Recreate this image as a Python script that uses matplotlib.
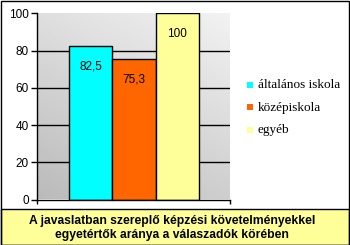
import numpy as np
import matplotlib.pyplot as plt
from matplotlib.patches import Rectangle

categories = ["általános iskola", "középiskola", "egyéb"]
values = [82.5, 75.3, 100]
labels = ["82,5", "75,3", "100"]
colors = ["#00FFFF", "#FF6600", "#FFFF99"]
yticks = [0, 20, 40, 60, 80, 100]
title = "A javaslatban szereplő képzési követelményekkel\negyetértők aránya a válaszadók körében"

W, H = 350, 245
fig = plt.figure(figsize=(W / 100, H / 100), dpi=100)
fig.patch.set_facecolor("white")

# plot area in pixels: x 37..230, y 13..199.5
ax = fig.add_axes([37 / W, (H - 199.5) / H, 193 / W, 186.2 / H])
ax.set_xlim(0, 1)
ax.set_ylim(0, 100)

# diagonal grey gradient background, darker at bottom left
gx, gy = np.meshgrid(np.linspace(0, 1, 100), np.linspace(0, 1, 100))
grad = 0.73 + 0.22 * (gx * 0.35 + gy * 0.65)
ax.imshow(grad, extent=[0, 1, 0, 100], origin="lower", aspect="auto",
          cmap="gray", vmin=0, vmax=1, zorder=0)

for v in yticks[1:-1]:
    ax.axhline(v, color="black", lw=1, zorder=1)

w = 0.224
pos = 0.503 + (np.arange(len(values)) - 1) * w
ax.bar(pos, values, width=w, color=colors, edgecolor="black", linewidth=1, zorder=2)
for p, v, t in zip(pos, values, labels):
    ax.text(p, v - 11, t, ha="center", va="center", fontsize=8.5,
            family="Liberation Sans", zorder=3)

ax.set_yticks(yticks)
ax.set_yticklabels([str(t) for t in yticks], family="Liberation Sans", fontsize=8.5)
ax.set_xticks([0, 1])
ax.set_xticklabels([])
ax.tick_params(axis="y", length=4, width=1, pad=2)
ax.tick_params(axis="x", length=3, width=1)
for s in ["top", "right"]:
    ax.spines[s].set_visible(False)
for s in ["left", "bottom"]:
    ax.spines[s].set_linewidth(1)

# legend
for i, (c, name) in enumerate(zip(colors, categories)):
    y = H - (85 + i * 22.5)
    fig.patches.append(Rectangle((247 / W, (y - 3) / H), 6 / W, 6 / H,
                                 transform=fig.transFigure, facecolor=c,
                                 edgecolor="none"))
    fig.text(258 / W, y / H, name, ha="left", va="center", fontsize=9.5,
             family="Liberation Serif")

# title box
fig.patches.append(Rectangle((0.5 / W, 0.5 / H), (W - 2) / W, 36 / H,
                             transform=fig.transFigure, facecolor="#FFFF99",
                             edgecolor="black", linewidth=1))
fig.text(172 / W, (H - 228) / H, title, ha="center", va="center",
         fontsize=8.7, fontweight="bold", family="Liberation Sans",
         linespacing=1.2)

# outer border
fig.patches.append(Rectangle((0.5 / W, 0.5 / H), (W - 2) / W, (H - 1.5) / H,
                             transform=fig.transFigure, facecolor="none",
                             edgecolor="black", linewidth=1))

fig.savefig("out.png", dpi=100)
